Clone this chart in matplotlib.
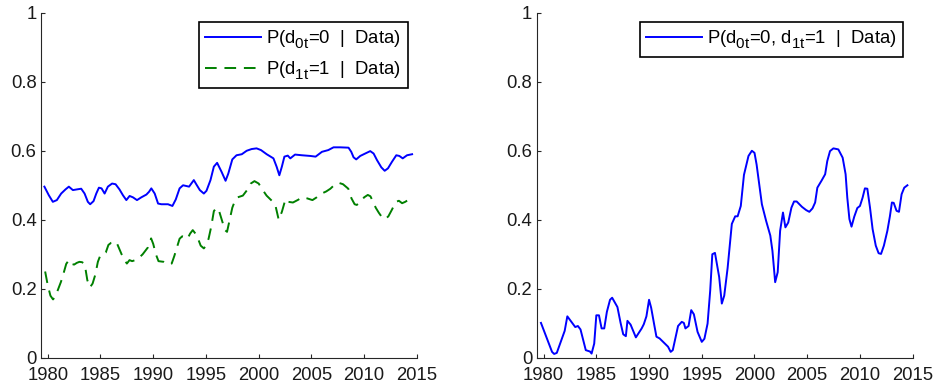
import matplotlib
matplotlib.use("Agg")
import matplotlib.pyplot as plt
import matplotlib._mathtext as mathtext_internals

plt.rcParams['font.family'] = ['Liberation Sans', 'DejaVu Sans']
plt.rcParams['font.size'] = 13.3
plt.rcParams['mathtext.fontset'] = 'custom'
plt.rcParams['mathtext.rm'] = 'Liberation Sans'

# bigger, lower subscripts like matlab's tex interpreter
mathtext_internals.SHRINK_FACTOR = 0.82
mathtext_internals.FontConstantsBase.sub1 = 0.55
mathtext_internals.FontConstantsBase.sub2 = 0.75

# left panel: P(d0t=0 | Data)
years_d0 = [1979.68, 1980.1, 1980.48, 1980.86, 1981.27, 1981.68, 1982.0, 1982.38, 1982.76, 1983.17,
            1983.49, 1983.8, 1984.02, 1984.34, 1984.6, 1984.85, 1985.1, 1985.39, 1985.7, 1986.1,
            1986.43, 1986.8, 1987.13, 1987.45, 1987.76, 1988.08, 1988.46, 1988.87, 1989.35, 1989.6,
            1989.82, 1990.14, 1990.46, 1990.77, 1991.4, 1991.82, 1992.14, 1992.5, 1992.83, 1993.4,
            1993.85, 1994.1, 1994.42, 1994.8, 1995.05, 1995.43, 1995.75, 1996.06, 1996.48, 1996.86,
            1997.12, 1997.5, 1997.9, 1998.4, 1998.86, 1999.33, 1999.8, 2000.22, 2000.76, 2001.4,
            2001.7, 2001.96, 2002.2, 2002.44, 2002.76, 2003.0, 2003.45, 2004.1, 2004.9, 2005.4,
            2006.0, 2006.6, 2007.1, 2007.73, 2008.52, 2008.78, 2009.0, 2009.25, 2009.63, 2010.1,
            2010.58, 2010.9, 2011.22, 2011.63, 2011.95, 2012.26, 2012.64, 2013.05, 2013.34, 2013.66,
            2014.07, 2014.55]
p_d0 = [0.496, 0.471, 0.452, 0.457, 0.476, 0.488, 0.496, 0.486, 0.488, 0.49,
        0.476, 0.452, 0.445, 0.454, 0.476, 0.493, 0.491, 0.476, 0.496, 0.505,
        0.503, 0.488, 0.471, 0.457, 0.469, 0.465, 0.457, 0.465, 0.473, 0.481,
        0.491, 0.476, 0.447, 0.445, 0.445, 0.44, 0.459, 0.491, 0.5, 0.496,
        0.515, 0.502, 0.486, 0.476, 0.484, 0.515, 0.554, 0.565, 0.539, 0.513,
        0.534, 0.575, 0.587, 0.59, 0.6, 0.605, 0.607, 0.602, 0.59, 0.578,
        0.554, 0.529, 0.554, 0.583, 0.586, 0.578, 0.589, 0.587, 0.585, 0.583,
        0.597, 0.602, 0.61, 0.61, 0.609, 0.597, 0.581, 0.575, 0.585, 0.592,
        0.599, 0.592, 0.573, 0.552, 0.542, 0.549, 0.568, 0.587, 0.585, 0.578,
        0.587, 0.59]

# left panel: P(d1t=1 | Data)
years_d1 = [1979.75, 1980.0, 1980.25, 1980.5, 1980.75, 1981.0, 1981.25, 1981.5, 1981.75, 1982.0,
            1982.25, 1982.5, 1982.75, 1983.0, 1983.25, 1983.5, 1983.75, 1984.0, 1984.25, 1984.5,
            1984.75, 1985.0, 1985.25, 1985.5, 1985.75, 1986.0, 1986.5, 1987.0, 1987.25, 1987.5,
            1987.75, 1988.0, 1988.5, 1989.0, 1989.5, 1989.8, 1990.0, 1990.25, 1990.5, 1991.0,
            1991.5, 1991.75, 1992.0, 1992.25, 1992.5, 1992.75, 1993.0, 1993.25, 1993.5, 1993.75,
            1994.0, 1994.25, 1994.5, 1994.8, 1995.0, 1995.25, 1995.5, 1995.75, 1996.0, 1996.25,
            1996.5, 1996.8, 1997.0, 1997.25, 1997.5, 1997.75, 1998.0, 1998.5, 1998.9, 1999.25,
            1999.6, 2000.0, 2000.3, 2000.75, 2001.25, 2001.6, 2001.9, 2002.2, 2002.5, 2002.6,
            2002.8, 2003.25, 2003.75, 2004.1, 2004.6, 2005.1, 2005.5, 2005.9, 2006.4, 2006.8,
            2007.25, 2007.6, 2008.0, 2008.5, 2008.8, 2009.1, 2009.3, 2009.6, 2010.0, 2010.35,
            2010.6, 2010.8, 2011.1, 2011.4, 2011.75, 2012.0, 2012.3, 2012.65, 2013.0, 2013.3,
            2013.6, 2013.9, 2014.2, 2014.55]
p_d1 = [0.25, 0.21, 0.18, 0.169, 0.18, 0.2, 0.22, 0.245, 0.272, 0.283,
        0.272, 0.27, 0.275, 0.278, 0.277, 0.272, 0.225, 0.204, 0.215, 0.24,
        0.278, 0.298, 0.3, 0.305, 0.327, 0.333, 0.336, 0.3, 0.285, 0.273,
        0.283, 0.28, 0.285, 0.3, 0.32, 0.346, 0.33, 0.3, 0.28, 0.278,
        0.27, 0.273, 0.295, 0.32, 0.345, 0.352, 0.35, 0.345, 0.36, 0.37,
        0.36, 0.345, 0.325, 0.317, 0.325, 0.345, 0.38, 0.425, 0.435, 0.425,
        0.4, 0.37, 0.365, 0.4, 0.435, 0.455, 0.465, 0.47, 0.486, 0.505,
        0.512, 0.505, 0.49, 0.47, 0.455, 0.44, 0.4, 0.423, 0.455, 0.46,
        0.452, 0.45, 0.458, 0.465, 0.462, 0.457, 0.465, 0.475, 0.482, 0.49,
        0.503, 0.507, 0.503, 0.49, 0.462, 0.445, 0.443, 0.45, 0.465, 0.472,
        0.468, 0.455, 0.435, 0.42, 0.405, 0.402, 0.41, 0.43, 0.452, 0.455,
        0.448, 0.452, 0.458, 0.46]

# right panel: P(d0t=0, d1t=1 | Data)
years_joint = [1979.75, 1980.2, 1980.8, 1981.0, 1981.25, 1982.0, 1982.25, 1983.0, 1983.25, 1983.5,
               1984.0, 1984.4, 1984.55, 1984.8, 1985.0, 1985.25, 1985.5, 1985.75, 1986.0, 1986.3,
               1986.5, 1987.0, 1987.3, 1987.55, 1987.8, 1987.95, 1988.25, 1988.75, 1989.3, 1989.5,
               1989.75, 1990.0, 1990.2, 1990.5, 1990.7, 1991.0, 1991.5, 1991.8, 1992.05, 1992.25,
               1992.75, 1993.1, 1993.3, 1993.45, 1993.75, 1994.0, 1994.25, 1994.6, 1995.0, 1995.25,
               1995.55, 1995.8, 1996.0, 1996.25, 1996.65, 1996.9, 1997.13, 1997.45, 1997.85, 1998.17,
               1998.4, 1998.7, 1999.0, 1999.43, 1999.75, 2000.0, 2000.2, 2000.7, 2001.1, 2001.5,
               2001.7, 2001.96, 2002.2, 2002.43, 2002.7, 2002.93, 2003.2, 2003.5, 2003.75, 2004.0,
               2004.5, 2004.9, 2005.2, 2005.5, 2005.75, 2005.96, 2006.37, 2006.7, 2006.9, 2007.16,
               2007.48, 2007.95, 2008.36, 2008.64, 2008.8, 2009.0, 2009.2, 2009.46, 2009.75, 2010.0,
               2010.25, 2010.47, 2010.7, 2010.95, 2011.2, 2011.5, 2011.77, 2012.0, 2012.27, 2012.6,
               2012.84, 2013.03, 2013.2, 2013.47, 2013.7, 2013.95, 2014.2, 2014.5]
p_joint = [0.101, 0.065, 0.017, 0.011, 0.014, 0.078, 0.12, 0.089, 0.092, 0.082,
           0.022, 0.018, 0.012, 0.041, 0.123, 0.123, 0.085, 0.085, 0.133, 0.168,
           0.174, 0.147, 0.101, 0.068, 0.0625, 0.107, 0.096, 0.059, 0.085, 0.097,
           0.12, 0.168, 0.145, 0.094, 0.061, 0.056, 0.041, 0.032, 0.017, 0.022,
           0.092, 0.104, 0.101, 0.085, 0.092, 0.138, 0.126, 0.075, 0.046, 0.055,
           0.099, 0.195, 0.30, 0.304, 0.234, 0.157, 0.18, 0.26, 0.388, 0.41,
           0.41, 0.44, 0.53, 0.585, 0.60, 0.594, 0.56, 0.445, 0.397, 0.354,
           0.31, 0.219, 0.248, 0.368, 0.421, 0.378, 0.392, 0.435, 0.453, 0.453,
           0.4375, 0.428, 0.423, 0.433, 0.45, 0.493, 0.514, 0.532, 0.57, 0.599,
           0.607, 0.604, 0.58, 0.532, 0.464, 0.402, 0.38, 0.409, 0.434, 0.44,
           0.464, 0.491, 0.49, 0.436, 0.373, 0.325, 0.303, 0.301, 0.325, 0.368,
           0.41, 0.45, 0.449, 0.426, 0.423, 0.474, 0.493, 0.50]

x_ticks = [1980, 1985, 1990, 1995, 2000, 2005, 2010, 2015]
y_ticks = [0, 0.2, 0.4, 0.6, 0.8, 1]
y_ticklabels = ['0', '0.2', '0.4', '0.6', '0.8', '1']

label_d0 = r'P(d$_{\mathregular{0t}}$=0  |  Data)'
label_d1 = r'P(d$_{\mathregular{1t}}$=1  |  Data)'
label_joint = r'P(d$_{\mathregular{0t}}$=0, d$_{\mathregular{1t}}$=1  |  Data)'

axis_col = '#262626'


def style_axis(ax):
    # matlab look: no box, ticks inside
    ax.set_xlim(1979.33, 2015)
    ax.set_ylim(0, 1)
    ax.set_xticks(x_ticks)
    ax.set_yticks(y_ticks)
    ax.set_yticklabels(y_ticklabels)
    ax.spines['top'].set_visible(False)
    ax.spines['right'].set_visible(False)
    for s in ['left', 'bottom']:
        ax.spines[s].set_color(axis_col)
        ax.spines[s].set_linewidth(0.8)
    ax.tick_params(direction='in', length=3, width=0.8, color=axis_col,
                   labelcolor='#1a1a1a')
    ax.tick_params(axis='x', pad=6.5)
    ax.tick_params(axis='y', pad=3)


def style_legend(leg):
    fr = leg.get_frame()
    fr.set_edgecolor('black')
    fr.set_linewidth(1.2)
    fr.set_boxstyle('square', pad=0)


fig = plt.figure(figsize=(9.38, 3.88), dpi=100)
ax1 = fig.add_axes([0.0434, 0.078, 0.401, 0.889])
ax2 = fig.add_axes([0.572, 0.078, 0.401, 0.889])

ax1.plot(years_d0, p_d0, color=(0, 0, 1), lw=1.4, label=label_d0)
ax1.plot(years_d1, p_d1, color=(0, 0.5, 0), lw=1.4, linestyle=(0, (6, 4)), label=label_d1)
style_axis(ax1)
leg1 = ax1.legend(loc='upper right', fancybox=False, framealpha=1, handlelength=3.0,
                  handletextpad=0.3, borderaxespad=0.5, labelspacing=0.45, borderpad=0.35)
style_legend(leg1)

ax2.plot(years_joint, p_joint, color=(0, 0, 1), lw=1.4, label=label_joint)
style_axis(ax2)
leg2 = ax2.legend(loc='upper right', fancybox=False, framealpha=1, handlelength=3.0,
                  handletextpad=0.3, borderaxespad=0.5, borderpad=0.35)
style_legend(leg2)

fig.savefig('out.png', dpi=100)
